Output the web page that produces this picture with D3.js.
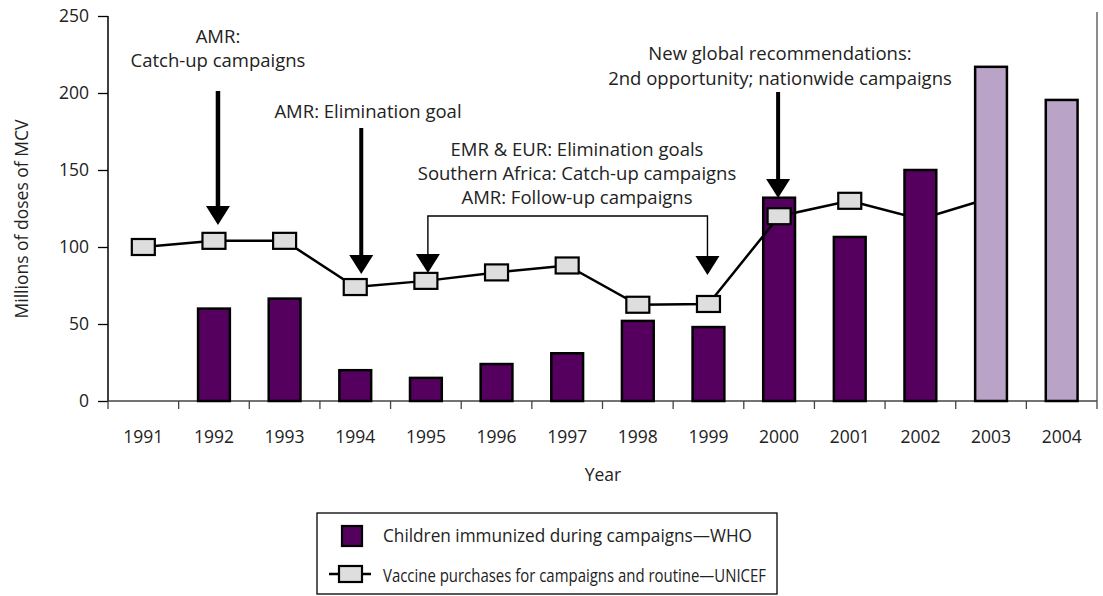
<!DOCTYPE html>
<html>
<head>
<meta charset="utf-8">
<script src="https://cdn.jsdelivr.net/npm/d3@7"></script>
<style>
  body { margin: 0; background: #fff; }
  svg { font-family: "Open Sans", Lato, sans-serif; }
</style>
</head>
<body>
<svg id="chart" width="1103" height="596"></svg>
<script>
// data
var years = ["1991","1992","1993","1994","1995","1996","1997","1998","1999","2000","2001","2002","2003","2004"];
var whoValues = [null, 60, 66.5, 20, 15, 24, 31, 52, 48, 132, 106.5, 150, 217, 195.5];
var unicefYears = ["1991","1992","1993","1994","1995","1996","1997","1998","1999","2000","2001","2002","2003"];
var unicefValues = [100, 104, 104, 74, 78, 83.5, 88, 62.5, 63, 120, 130, 118, 132];
var lightYears = ["2003","2004"];      // lighter bars
var barsOverLine = ["2002","2003","2004"];  // these bars hide the line
var yTicks = [0, 50, 100, 150, 200, 250];

var svg = d3.select("#chart");
var pLeft = 108, pRight = 1097, pTop = 16, pBottom = 401;
var fs = 17.5, fsAnn = 18.5;
var txt = "#222";

var x = d3.scaleBand().domain(years).range([pLeft, pRight]).paddingInner(0.55).paddingOuter(0.275);
var xb = d3.scaleBand().domain(years).range([pLeft, pRight]); // for ticks
var y = d3.scaleLinear().domain([0, 250]).range([pBottom, pTop]);
function cx(yr) { return xb(yr) + xb.bandwidth() / 2; }

var dark = "#55005f", light = "#b9a3c6";

// right frame line
svg.append("line")
  .attr("x1", pRight).attr("x2", pRight).attr("y1", 12).attr("y2", pBottom)
  .attr("stroke", "#666").attr("stroke-width", 1.5);

// y axis
var yAxis = svg.append("g").attr("transform", "translate(" + pLeft + ",0)")
  .call(d3.axisLeft(y).tickValues(yTicks).tickSize(10).tickPadding(9));
yAxis.select(".domain").attr("stroke", "#000").attr("stroke-width", 1.5).attr("d", "M0," + y(250) + "V" + pBottom);
yAxis.selectAll(".tick line").attr("stroke", "#000").attr("stroke-width", 1.3);
yAxis.selectAll(".tick text").attr("font-size", fs).attr("fill", txt).attr("font-family", "Open Sans");

// x axis
var xAxis = svg.append("g").attr("transform", "translate(0," + pBottom + ")");
xAxis.append("line").attr("x1", pLeft).attr("x2", pRight).attr("stroke", "#444").attr("stroke-width", 1.5);
var bounds = years.map(function (d) { return xb(d); }).concat([pRight]);
xAxis.selectAll("line.tk").data(bounds).enter().append("line")
  .attr("class", "tk")
  .attr("x1", function (d) { return d; }).attr("x2", function (d) { return d; })
  .attr("y1", 0).attr("y2", 8).attr("stroke", "#444").attr("stroke-width", 1.3);
xAxis.selectAll("text").data(years).enter().append("text")
  .attr("x", function (d) { return cx(d); }).attr("y", 42)
  .attr("text-anchor", "middle").attr("font-size", fs).attr("fill", txt)
  .text(function (d) { return d; });

// axis titles
svg.append("text").attr("x", 603).attr("y", 481).attr("text-anchor", "middle")
  .attr("font-size", fs).attr("fill", txt).text("Year");
svg.append("text").attr("transform", "translate(28,219) rotate(-90)").attr("text-anchor", "middle")
  .attr("font-size", fs).attr("fill", txt).text("Millions of doses of MCV");

var barData = years.map(function (d, i) { return { year: d, v: whoValues[i] }; })
  .filter(function (d) { return d.v != null; });

function drawBars(g, data) {
  g.selectAll("rect").data(data).enter().append("rect")
    .attr("x", function (d) { return x(d.year); })
    .attr("width", x.bandwidth())
    .attr("y", function (d) { return y(d.v); })
    .attr("height", function (d) { return y(0) - y(d.v); })
    .attr("fill", function (d) { return lightYears.indexOf(d.year) >= 0 ? light : dark; })
    .attr("stroke", "#000").attr("stroke-width", 2.5);
}

drawBars(svg.append("g"), barData.filter(function (d) { return barsOverLine.indexOf(d.year) < 0; }));

// UNICEF line
var lineData = unicefYears.map(function (d, i) { return { year: d, v: unicefValues[i] }; });
var line = d3.line().x(function (d) { return cx(d.year); }).y(function (d) { return y(d.v); });
svg.append("path").datum(lineData).attr("d", line)
  .attr("fill", "none").attr("stroke", "#000").attr("stroke-width", 2.5);
svg.append("g").selectAll("rect").data(lineData).enter().append("rect")
  .attr("x", function (d) { return cx(d.year) - 11.5; })
  .attr("y", function (d) { return y(d.v) - 8; })
  .attr("width", 23).attr("height", 16)
  .attr("fill", "#dedede").attr("stroke", "#000").attr("stroke-width", 2.2);

drawBars(svg.append("g"), barData.filter(function (d) { return barsOverLine.indexOf(d.year) >= 0; }));

// annotations
var ann = svg.append("g").attr("font-size", fsAnn).attr("fill", txt).attr("text-anchor", "middle");
function texts(xc, lines, y0, dy) {
  lines.forEach(function (t, i) {
    ann.append("text").attr("x", xc).attr("y", y0 + i * dy).text(t);
  });
}
function arrow(xc, y1, tip, shaftW) {
  ann.append("line").attr("x1", xc).attr("x2", xc).attr("y1", y1).attr("y2", tip - 15)
    .attr("stroke", "#000").attr("stroke-width", shaftW);
  ann.append("path")
    .attr("d", "M" + (xc - 12) + "," + (tip - 19) + "L" + (xc + 12) + "," + (tip - 19) + "L" + xc + "," + tip + "Z")
    .attr("fill", "#000");
}

texts(cx("1992") + 4, ["AMR:", "Catch-up campaigns"], 43, 24);
arrow(cx("1992") + 4, 91, 225, 4.5);

texts(368, ["AMR: Elimination goal"], 118, 0);
arrow(cx("1994") + 6, 128, 274, 4);

texts(577, ["EMR & EUR: Elimination goals", "Southern Africa: Catch-up campaigns", "AMR: Follow-up campaigns"], 156, 24);
var bx1 = cx("1995") + 2, bx2 = cx("1999") - 1;
ann.append("path").attr("d", "M" + bx1 + ",258V216H" + bx2 + "V258")
  .attr("fill", "none").attr("stroke", "#000").attr("stroke-width", 1.4);
arrow(bx1, 258, 273, 1.4);
arrow(bx2, 258, 275, 1.4);

texts(780, ["New global recommendations:", "2nd opportunity; nationwide campaigns"], 60, 25);
arrow(cx("2000") - 1, 92, 198, 4);

// legend
var lg = svg.append("g");
lg.append("rect").attr("x", 317).attr("y", 513).attr("width", 460).attr("height", 81)
  .attr("fill", "#fff").attr("stroke", "#000").attr("stroke-width", 1.3);
lg.append("rect").attr("x", 342).attr("y", 526).attr("width", 20).attr("height", 20)
  .attr("fill", dark).attr("stroke", "#000").attr("stroke-width", 2.2);
lg.append("line").attr("x1", 329).attr("x2", 371).attr("y1", 574).attr("y2", 574)
  .attr("stroke", "#000").attr("stroke-width", 2.5);
lg.append("rect").attr("x", 339).attr("y", 566).attr("width", 23).attr("height", 16)
  .attr("fill", "#dedede").attr("stroke", "#000").attr("stroke-width", 2.2);
lg.append("text").attr("x", 383).attr("y", 542).attr("font-size", fs).attr("fill", txt)
  .attr("textLength", 369).attr("lengthAdjust", "spacingAndGlyphs")
  .text("Children immunized during campaigns\u2014WHO");
lg.append("text").attr("x", 383).attr("y", 582).attr("font-size", fs).attr("fill", txt)
  .attr("textLength", 383).attr("lengthAdjust", "spacingAndGlyphs")
  .text("Vaccine purchases for campaigns and routine\u2014UNICEF");
</script>
</body>
</html>
